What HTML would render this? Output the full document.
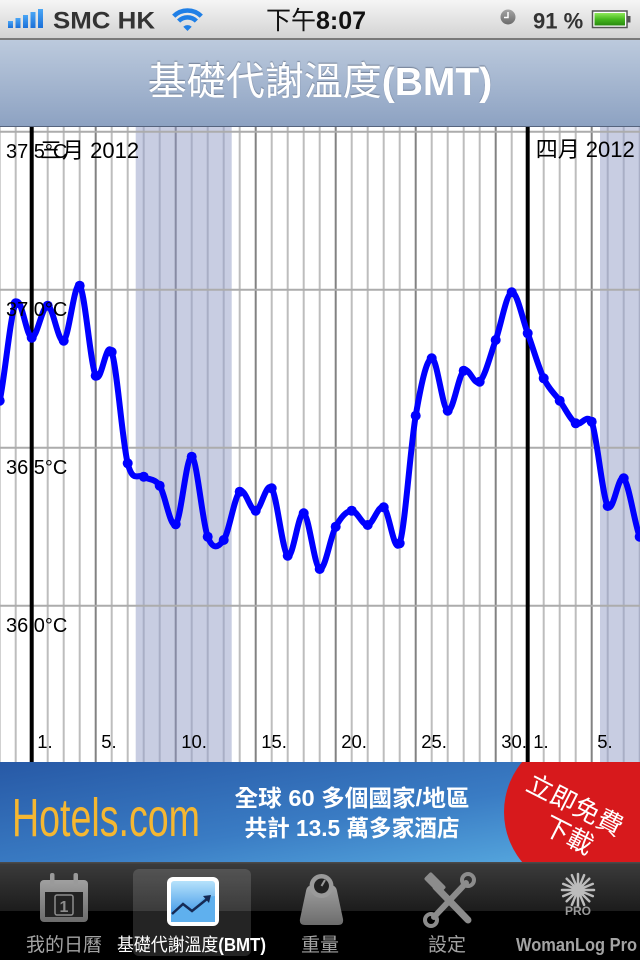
<!DOCTYPE html>
<html><head><meta charset="utf-8">
<style>
*{margin:0;padding:0;box-sizing:border-box}
html,body{width:640px;height:960px;overflow:hidden;background:#fff;font-family:"Liberation Sans","Noto Sans CJK TC",sans-serif}
#status{position:absolute;left:0;top:0;width:640px;height:40px;background:linear-gradient(#f5f5f5,#d3d3d3);border-bottom:2px solid #7a7a7a}
#nav{position:absolute;left:0;top:40px;width:640px;height:87px;background:linear-gradient(#bccadd,#8da2c2);border-bottom:1px solid #55637d}
#title{position:absolute;left:0;top:40px;width:640px;height:86px;line-height:86px;text-align:center;color:#fff;font-size:39px;text-shadow:0 -1px 1px rgba(60,70,90,.5);white-space:nowrap}
#title b{font-weight:bold}
svg{position:absolute;left:0;display:block}
</style></head><body>

<div id="status"></div>
<svg style="top:0" width="640" height="40" viewBox="0 0 640 40">
  <defs>
    <linearGradient id="sig" x1="0" y1="0" x2="0" y2="1"><stop offset="0" stop-color="#4aa6f5"/><stop offset="1" stop-color="#1a6fd8"/></linearGradient>
    <linearGradient id="bat" x1="0" y1="0" x2="0" y2="1"><stop offset="0" stop-color="#8ee85a"/><stop offset=".5" stop-color="#46b81e"/><stop offset="1" stop-color="#2a8a10"/></linearGradient>
    <linearGradient id="clk" x1="0" y1="0" x2="0" y2="1"><stop offset="0" stop-color="#a5a5a5"/><stop offset="1" stop-color="#6a6a6a"/></linearGradient>
  </defs>
  <rect x="8" y="21" width="5" height="7" fill="url(#sig)"/>
  <rect x="15.5" y="18" width="5" height="10" fill="url(#sig)"/>
  <rect x="23" y="15" width="5" height="13" fill="url(#sig)"/>
  <rect x="30.5" y="12" width="5" height="16" fill="url(#sig)"/>
  <rect x="38" y="9" width="5" height="19" fill="url(#sig)"/>
  <text x="53" y="28.5" font-size="24" font-weight="bold" fill="#333" textLength="102" lengthAdjust="spacingAndGlyphs">SMC HK</text>
  <g fill="none" stroke="#1f7fe6" stroke-width="4.5">
    <path d="M178.6 21.1 A12.5 12.5 0 0 1 196.4 21.1"/>
    <path d="M173.7 16.2 A19.5 19.5 0 0 1 201.3 16.2"/>
  </g>
  <path d="M187.5 31 L183.3 26.8 A6 6 0 0 1 191.7 26.8 Z" fill="#1f7fe6"/>
  <text x="266" y="29" font-size="25" fill="#111" font-family="Liberation Sans,Noto Sans CJK TC,sans-serif">下午<tspan font-weight="bold">8:07</tspan></text>
  <circle cx="508" cy="17" r="7.5" fill="url(#clk)"/>
  <path d="M508 12 V17.5 H504" stroke="#fff" stroke-width="1.5" fill="none"/>
  <text x="533" y="28.3" font-size="22" font-weight="bold" fill="#333">91 %</text>
  <rect x="592.5" y="11" width="34.5" height="16.5" fill="#fff" stroke="#555" stroke-width="1.5"/>
  <rect x="594.5" y="13" width="30.5" height="12.5" fill="url(#bat)"/>
  <rect x="627.5" y="16" width="3" height="6.5" fill="#555"/>
</svg>

<div id="nav"></div>
<div id="title">基礎代謝溫度<b>(BMT)</b></div>

<svg style="top:127px" width="640" height="635" viewBox="0 127 640 635">
  <rect x="0" y="127" width="640" height="635" fill="#fff"/>
  <rect x="135.7" y="127" width="96" height="635" fill="#c8cde2"/>
  <rect x="600" y="127" width="40" height="635" fill="#c8cde2"/>
  <path stroke="#bdbdbd" stroke-width="2" d="M-0.3 127V762M15.7 127V762M47.7 127V762M63.7 127V762M79.7 127V762M111.7 127V762M127.7 127V762M239.7 127V762M271.7 127V762M287.7 127V762M303.7 127V762M319.7 127V762M351.7 127V762M367.7 127V762M383.7 127V762M399.7 127V762M431.7 127V762M447.7 127V762M463.7 127V762M479.7 127V762M511.7 127V762M543.7 127V762M559.7 127V762M575.7 127V762"/>
  <path stroke="#a9aec5" stroke-width="2" d="M143.7 127V762M159.7 127V762M191.7 127V762M207.7 127V762M223.7 127V762M607.7 127V762M623.7 127V762M639.7 127V762"/>
  <path stroke="#828282" stroke-width="2" d="M95.7 127V762M255.7 127V762M335.7 127V762M415.7 127V762M495.7 127V762M591.7 127V762"/>
  <path stroke="#878ba3" stroke-width="2" d="M175.7 127V762"/>
  <path stroke="#acacac" stroke-width="2" d="M0 131.7H640M0 289.7H640M0 447.7H640M0 605.7H640"/>
  <path stroke="#000" stroke-width="4" d="M31.7 127V762M527.7 127V762"/>
  <path fill="none" stroke="#0000ff" stroke-width="6" stroke-linejoin="round" stroke-linecap="round" d="M-0.3 400.7 C5.0 376.2 10.4 313.8 15.7 303.3 C21.0 292.8 26.4 337.3 31.7 337.7 C37.0 338.1 42.4 305.2 47.7 305.7 C53.0 306.2 58.4 344.0 63.7 340.7 C69.0 337.4 74.4 279.9 79.7 285.7 C85.0 291.5 90.4 364.7 95.7 375.7 C101.0 386.8 106.4 337.4 111.7 352.0 C117.0 366.6 122.4 442.5 127.7 463.3 C133.0 484.1 138.4 473.0 143.7 476.7 C149.0 480.4 154.4 477.8 159.7 485.7 C165.0 493.6 170.4 529.1 175.7 524.3 C181.0 519.5 186.4 454.6 191.7 456.7 C197.0 458.8 202.4 522.8 207.7 536.7 C213.0 550.6 218.4 547.5 223.7 540.0 C229.0 532.5 234.4 496.6 239.7 491.7 C245.0 486.8 250.4 511.3 255.7 510.7 C261.0 510.1 266.4 480.8 271.7 488.3 C277.0 495.8 282.4 551.5 287.7 555.7 C293.0 559.9 298.4 511.1 303.7 513.3 C309.0 515.5 314.4 566.8 319.7 569.0 C325.0 571.2 330.4 536.4 335.7 526.7 C341.0 517.0 346.4 511.0 351.7 510.7 C357.0 510.4 362.4 525.6 367.7 525.0 C373.0 524.4 378.4 504.3 383.7 507.3 C389.0 510.4 394.4 556.6 399.7 543.3 C405.0 528.0 410.4 446.5 415.7 415.7 C421.0 384.9 426.4 359.1 431.7 358.3 C437.0 357.5 442.4 408.6 447.7 410.7 C453.0 412.8 458.4 375.5 463.7 370.7 C469.0 365.9 474.4 386.8 479.7 381.7 C485.0 376.6 490.4 354.9 495.7 340.0 C501.0 325.1 506.4 293.4 511.7 292.3 C517.0 291.2 522.4 319.0 527.7 333.3 C533.0 347.6 538.4 367.1 543.7 378.3 C549.0 389.5 554.4 393.2 559.7 400.7 C565.0 408.2 570.4 419.8 575.7 423.3 C581.0 426.8 586.4 412.9 591.7 421.7 C597.0 435.5 602.4 496.6 607.7 506.0 C613.0 515.4 618.4 473.2 623.7 478.3 C629.0 483.4 634.4 523.1 639.7 536.7"/>
  <g fill="#0000ff">
    <circle cx="-0.3" cy="400.7" r="5"/><circle cx="15.7" cy="303.3" r="5"/><circle cx="31.7" cy="337.7" r="5"/><circle cx="47.7" cy="305.7" r="5"/><circle cx="63.7" cy="340.7" r="5"/><circle cx="79.7" cy="285.7" r="5"/><circle cx="95.7" cy="375.7" r="5"/><circle cx="111.7" cy="352" r="5"/><circle cx="127.7" cy="463.3" r="5"/><circle cx="143.7" cy="476.7" r="5"/><circle cx="159.7" cy="485.7" r="5"/><circle cx="175.7" cy="524.3" r="5"/><circle cx="191.7" cy="456.7" r="5"/><circle cx="207.7" cy="536.7" r="5"/><circle cx="223.7" cy="540" r="5"/><circle cx="239.7" cy="491.7" r="5"/><circle cx="255.7" cy="510.7" r="5"/><circle cx="271.7" cy="488.3" r="5"/><circle cx="287.7" cy="555.7" r="5"/><circle cx="303.7" cy="513.3" r="5"/><circle cx="319.7" cy="569" r="5"/><circle cx="335.7" cy="526.7" r="5"/><circle cx="351.7" cy="510.7" r="5"/><circle cx="367.7" cy="525" r="5"/><circle cx="383.7" cy="507.3" r="5"/><circle cx="399.7" cy="543.3" r="5"/><circle cx="415.7" cy="415.7" r="5"/><circle cx="431.7" cy="358.3" r="5"/><circle cx="447.7" cy="410.7" r="5"/><circle cx="463.7" cy="370.7" r="5"/><circle cx="479.7" cy="381.7" r="5"/><circle cx="495.7" cy="340" r="5"/><circle cx="511.7" cy="292.3" r="5"/><circle cx="527.7" cy="333.3" r="5"/><circle cx="543.7" cy="378.3" r="5"/><circle cx="559.7" cy="400.7" r="5"/><circle cx="575.7" cy="423.3" r="5"/><circle cx="591.7" cy="421.7" r="5"/><circle cx="607.7" cy="506" r="5"/><circle cx="623.7" cy="478.3" r="5"/><circle cx="639.7" cy="536.7" r="5"/>
  </g>
  <g font-size="20" fill="#000">
    <text x="6" y="158">37.5°C</text>
    <text x="6" y="316">37.0°C</text>
    <text x="6" y="474">36.5°C</text>
    <text x="6" y="632">36.0°C</text>
  </g>
  <g font-size="22" fill="#000" font-family="Liberation Sans,Noto Sans CJK TC,sans-serif">
    <text x="40" y="158">三月 2012</text>
    <text x="535.7" y="157">四月 2012</text>
  </g>
  <g font-size="18.5" fill="#000">
    <text x="37.2" y="748">1.</text>
    <text x="101.2" y="748">5.</text>
    <text x="181.2" y="748">10.</text>
    <text x="261.2" y="748">15.</text>
    <text x="341.2" y="748">20.</text>
    <text x="421.2" y="748">25.</text>
    <text x="501.2" y="748">30.</text>
    <text x="533.2" y="748">1.</text>
    <text x="597.2" y="748">5.</text>
  </g>
</svg>

<svg style="top:762px" width="640" height="100" viewBox="0 762 640 100">
  <defs>
    <linearGradient id="adbg" x1="0" y1="0" x2="1" y2="1"><stop offset="0" stop-color="#2759a6"/><stop offset=".55" stop-color="#3a7cc4"/><stop offset="1" stop-color="#5aaee2"/></linearGradient>
  </defs>
  <rect x="0" y="762" width="640" height="100" fill="url(#adbg)"/>
  <text x="12" y="836" font-size="54" fill="#f5b731" textLength="188" lengthAdjust="spacingAndGlyphs">Hotels.com</text>
  <g fill="#fff" font-weight="bold" font-family="Liberation Sans,Noto Sans CJK TC,sans-serif" text-anchor="middle">
    <text x="352" y="806" font-size="23" textLength="235" lengthAdjust="spacingAndGlyphs">全球 60 多個國家/地區</text>
    <text x="352" y="836" font-size="23" textLength="215" lengthAdjust="spacingAndGlyphs">共計 13.5 萬多家酒店</text>
  </g>
  <circle cx="582" cy="812" r="78" fill="#d7191c"/>
  <g transform="translate(575 805) rotate(27)" fill="#fff" font-size="26" font-family="Liberation Sans,Noto Sans CJK TC,sans-serif" text-anchor="middle">
    <text x="0" y="9">立即免費</text>
    <text x="8" y="39">下載</text>
  </g>
</svg>

<svg style="top:862px" width="640" height="98" viewBox="0 862 640 98">
  <defs>
    <linearGradient id="tb" x1="0" y1="0" x2="0" y2="1"><stop offset="0" stop-color="#3c3c3c"/><stop offset="1" stop-color="#1c1c1c"/></linearGradient>
    <linearGradient id="ic" x1="0" y1="0" x2="0" y2="1"><stop offset="0" stop-color="#a0a0a0"/><stop offset="1" stop-color="#6c6c6c"/></linearGradient>
    <linearGradient id="bmt" x1="0" y1="0" x2="0" y2="1"><stop offset="0" stop-color="#b6e2fb"/><stop offset="1" stop-color="#2a8ae4"/></linearGradient>
  </defs>
  <rect x="0" y="862" width="640" height="49" fill="url(#tb)"/>
  <rect x="0" y="911" width="640" height="49" fill="#000"/>
  <rect x="0" y="862" width="640" height="1.5" fill="#4a4a4a"/>
  <rect x="133" y="869" width="118" height="87" rx="6" fill="#fff" fill-opacity=".14"/>
  <rect x="40" y="880" width="48" height="42" rx="4" fill="url(#ic)"/>
  <rect x="45" y="892" width="38" height="25" fill="#222"/>
  <rect x="55" y="895" width="18" height="20" rx="2" fill="none" stroke="#8c8c8c" stroke-width="1.5"/>
  <text x="64" y="912" font-size="16" font-weight="bold" fill="#8c8c8c" text-anchor="middle">1</text>
  <rect x="50" y="873" width="4.5" height="13" rx="2" fill="#9a9a9a"/>
  <rect x="73.5" y="873" width="4.5" height="13" rx="2" fill="#9a9a9a"/>
  <rect x="167" y="877" width="52" height="49" rx="6" fill="#fff"/>
  <rect x="171" y="881" width="44" height="41" rx="3" fill="url(#bmt)"/>
  <path d="M171 913 L183 903 L192 909 L205 897 L215 896 L215 922 L171 922Z" fill="#5fb0ee"/>
  <polyline points="172,914 183,904 192,911 207,899" fill="none" stroke="#152a55" stroke-width="2.5"/>
  <path d="M203 896 L211 895 L209 903 Z" fill="#152a55"/>
  <path d="M306 891 Q307 885 313 885 L330 885 Q336 885 337 891 L343 919 Q344 925 338 925 L305 925 Q299 925 300 919 Z" fill="url(#ic)"/>
  <circle cx="321.5" cy="886" r="12" fill="#9a9a9a"/>
  <circle cx="321.5" cy="886" r="7.5" fill="#222"/>
  <path d="M321.5 886 L325 880" stroke="#9a9a9a" stroke-width="2"/>
  <g stroke-linecap="round">
    <path d="M436 887 L468 920" stroke="#8c8c8c" stroke-width="7"/>
    <path d="M466 883 L434 917" stroke="#8c8c8c" stroke-width="6"/>
  </g>
  <rect x="424" y="878" width="22" height="10" rx="2" fill="#8c8c8c" transform="rotate(45 435 883)"/>
  <circle cx="431" cy="920" r="6" fill="none" stroke="#8c8c8c" stroke-width="4"/>
  <circle cx="468" cy="880" r="6" fill="none" stroke="#8c8c8c" stroke-width="4"/>
  <g stroke="#bcbcbc" stroke-width="2.5" stroke-linecap="round">
    <path d="M578 874 V906 M562 890 H594 M566.7 878.7 L589.3 901.3 M589.3 878.7 L566.7 901.3 M571.9 875.2 L584.1 904.8 M584.1 875.2 L571.9 904.8 M563.2 883.9 L592.8 896.1 M592.8 883.9 L563.2 896.1"/>
  </g>
  <text x="578" y="915" font-size="12" font-weight="bold" fill="#9a9a9a" text-anchor="middle">PRO</text>
  <g font-size="19" fill="#a3a3a3" font-family="Liberation Sans,Noto Sans CJK TC,sans-serif">
    <text x="64" y="951" text-anchor="middle">我的日曆</text>
    <text x="117" y="951" font-size="18" fill="#fff" textLength="149" lengthAdjust="spacingAndGlyphs">基礎代謝溫度<tspan font-weight="bold">(BMT)</tspan></text>
    <text x="320" y="951" text-anchor="middle">重量</text>
    <text x="447" y="951" text-anchor="middle">設定</text>
    <text x="516" y="951" font-size="18" font-weight="bold" textLength="121" lengthAdjust="spacingAndGlyphs">WomanLog Pro</text>
  </g>
</svg>

</body></html>
